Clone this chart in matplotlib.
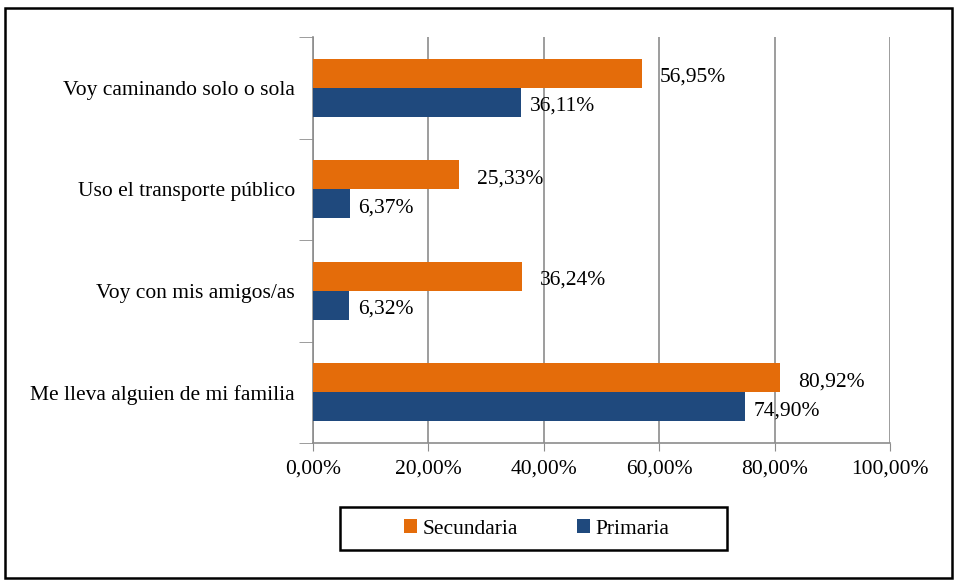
import matplotlib.pyplot as plt
from matplotlib.patches import Rectangle
import numpy as np

# Datos
categorias = ["Voy caminando solo o sola", "Uso el transporte público",
              "Voy con mis amigos/as", "Me lleva alguien de mi familia"]
secundaria = [56.95, 25.33, 36.24, 80.92]
primaria = [36.11, 6.37, 6.32, 74.90]
x_ticks = [0, 20, 40, 60, 80, 100]

naranja = "#E46C0A"
azul = "#1F497D"
gris = "#8C8C8C"

plt.rcParams['font.family'] = ['Liberation Serif', 'DejaVu Serif']
plt.rcParams['font.size'] = 15.5

fig = plt.figure(figsize=(9.57, 5.8), dpi=100)
ax = fig.add_axes([313/957, 1 - 443/580, 577/957, 406/580])

y = np.arange(len(categorias))
h = 0.285
b1 = ax.barh(y - h/2, secundaria, height=h, color=naranja, label="Secundaria", zorder=3)
b2 = ax.barh(y + h/2, primaria, height=h, color=azul, label="Primaria", zorder=3)

def fmt(v):
    return f"{v:.2f}%".replace(".", ",")

# etiquetas de valor, un poco más abajo del centro de la barra
for serie, pos, pad in [(secundaria, y - h/2, 13), (primaria, y + h/2, 6)]:
    for v, yy in zip(serie, pos):
        ax.annotate(fmt(v), (v, yy), xytext=(pad, -3), textcoords="offset points",
                    ha="left", va="center")

ax.set_xlim(0, 100)
ax.set_ylim(len(categorias) - 0.5, -0.5)
ax.set_xticks(x_ticks)
ax.set_xticklabels([f"{v:.2f}%".replace(".", ",") for v in x_ticks])
ax.tick_params(axis='x', length=6, color=gris, pad=6)

# etiquetas de categoría en el centro, ticks en los límites
ax.set_yticks(y)
ax.set_yticklabels(categorias)
ax.tick_params(axis='y', which='major', length=0, pad=13)
ax.set_yticks(np.arange(-0.5, len(categorias)), minor=True)
ax.tick_params(axis='y', which='minor', length=10, color=gris)

ax.grid(axis='x', color=gris, linewidth=1.2, zorder=0)
for s in ["top", "right"]:
    ax.spines[s].set_visible(False)
ax.spines["left"].set_color(gris)
ax.spines["bottom"].set_color(gris)
ax.spines["left"].set_linewidth(1.2)
ax.spines["bottom"].set_linewidth(1.2)

# leyenda con su caja
fig.patches.append(Rectangle((340/957, 1 - 550/580), 387/957, 43/580,
                             transform=fig.transFigure, fill=False,
                             edgecolor="black", linewidth=1.8))
fig.legend(handles=[b1, b2], loc='center', bbox_to_anchor=(537/957, 1 - 529/580),
           ncol=2, frameon=False, handlelength=0.6, handleheight=0.6,
           handletextpad=0.25, columnspacing=2.75)

# marco exterior
fig.patches.append(Rectangle((5/957, 2/580), 947/957, 570/580,
                             transform=fig.transFigure, fill=False,
                             edgecolor="black", linewidth=1.8))

fig.savefig("out.png", dpi=100)
